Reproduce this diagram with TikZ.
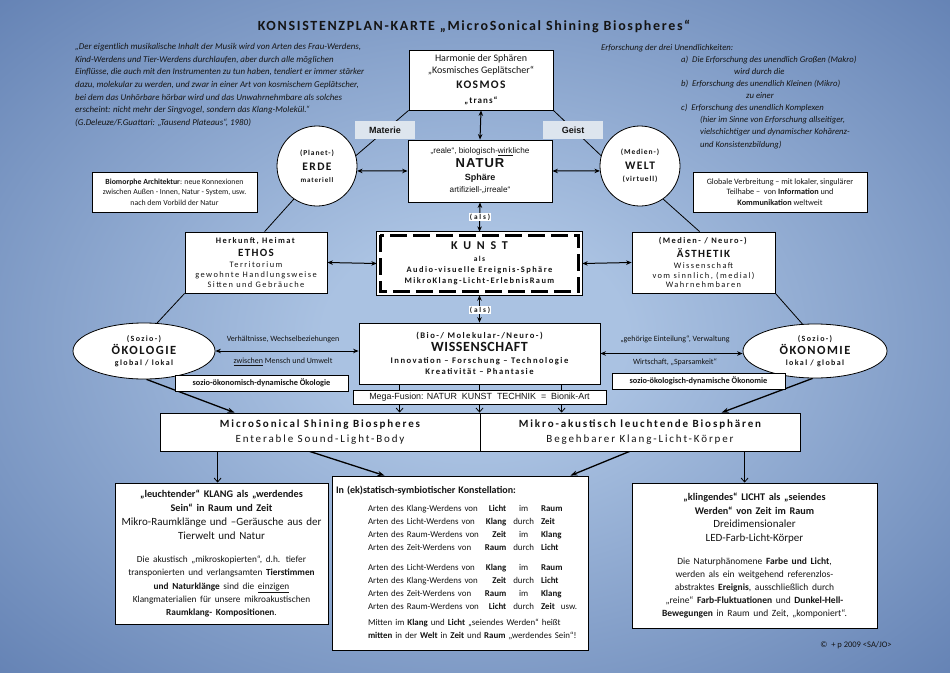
\documentclass[tikz,border=0pt]{standalone}
\usepackage{fontspec}
\setmainfont{Carlito}
\newfontfamily\arialf{Liberation Sans}
\newfontfamily\lsfontn[LetterSpace=4]{Carlito}
\newfontfamily\lsfont[LetterSpace=12]{Carlito}
\newfontfamily\lsfontm[LetterSpace=17]{Carlito}
\newfontfamily\lsfontw[LetterSpace=25]{Carlito}
\newfontfamily\lsarial[LetterSpace=8]{Liberation Sans}
\usetikzlibrary{arrows.meta,shapes.geometric,calc}
\definecolor{bglight}{RGB}{170,194,226}
\definecolor{bgdark}{RGB}{100,130,180}
\definecolor{labfill}{RGB}{221,229,238}
\definecolor{ink}{RGB}{20,20,20}
\pgfdeclareradialshading{bgsh}{\pgfpoint{0bp}{0bp}}{color(0bp)=(bglight); color(8bp)=(bglight); color(36bp)=(bgdark); color(60bp)=(bgdark)}
\pgfdeclarelayer{bglayer}
\pgfdeclarelayer{linelayer}
\pgfsetlayers{bglayer,linelayer,main}
\newcommand\fsz[2]{\fontsize{#1}{#2}\selectfont}
\begin{document}
\begin{tikzpicture}[x=1pt,y=-1pt,
  every node/.style={text=ink},
  box/.style={draw=black, line width=0.8pt, fill=white, inner sep=1pt, align=center},
  lab/.style={fill=labfill, minimum width=60pt, minimum height=18pt, inner sep=0pt, font=\arialf\bfseries\fsz{9}{10}},
  circ/.style={circle, draw=black, fill=white, line width=0.8pt, minimum size=80pt, inner sep=0pt, align=center},
  ell/.style={ellipse, draw=black, fill=white, line width=0.8pt, inner sep=0pt, align=center},
  alsl/.style={fill=white, inner sep=1.2pt, font=\lsfontw\bfseries\fsz{7.3}{8}},
  con/.style={line width=0.8pt},
  dbl/.style={{Stealth[length=5.5pt,width=4.5pt]}-{Stealth[length=5.5pt,width=4.5pt]}, line width=1pt},
  farr/.style={-{Stealth[length=7pt,width=5pt]}, line width=1.3pt},
  oarr/.style={-{Straight Barb[length=4pt,width=7pt]}, line width=0.8pt},
  elab/.style={font=\fsz{8}{10}}
]
\useasboundingbox (0,0) rectangle (950,672);
\begin{pgfonlayer}{bglayer}
\shade[shading=bgsh] (0,0) rectangle (950,672);
\end{pgfonlayer}

% title and texts
\node[font=\lsfont\bfseries\fsz{14}{16}] (title) at (474,27) {KONSISTENZPLAN-KARTE „MicroSonical Shining Biospheres“};

\node[anchor=north west, align=left, inner sep=0pt, font=\itshape\fsz{8.9}{12.7}] (quote) at (75,43) {„Der eigentlich musikalische Inhalt der Musik wird von Arten des Frau-Werdens,\\Kind-Werdens und Tier-Werdens durchlaufen, aber durch alle möglichen\\Einflüsse, die auch mit den Instrumenten zu tun haben, tendiert er immer stärker\\dazu, molekular zu werden, und zwar in einer Art von kosmischem Geplätscher,\\bei dem das Unhörbare hörbar wird und das Unwahrnehmbare als solches\\erscheint: nicht mehr der Singvogel, sondern das Klang-Molekül.“\\(G.Deleuze/F.Guattari: „Tausend Plateaus“, 1980)};

\node[anchor=north west, align=left, inner sep=0pt, font=\itshape\fsz{8.7}{12.1}] (research) at (601,44) {Erforschung der drei Unendlichkeiten:\\\hspace*{80pt}a)\ \ Die Erforschung des unendlich Großen (Makro)\\\hspace*{133pt}wird durch die\\\hspace*{80pt}b)\ \ Erforschung des unendlich Kleinen (Mikro)\\\hspace*{145pt}zu einer\\\hspace*{80pt}c)\ \ Erforschung des unendlich Komplexen\\\hspace*{99pt}(hier im Sinne von Erforschung allseitiger,\\\hspace*{99pt}vielschichtiger und dynamischer Kohärenz-\\\hspace*{99pt}und Konsistenzbildung)};

% top row
\node[box, minimum width=144pt, minimum height=60pt, font=\fsz{10}{12}] (kosmos) at (481,80) {Harmonie der Sphären\\„Kosmisches Geplätscher“\\[3pt]{\lsfont\bfseries\fsz{11.5}{14}KOSMOS}\\[3pt]{\lsfont\bfseries\fsz{9}{11}„trans“}};
\node[lab] (materie) at (385,130) {Materie};
\node[lab] (geist) at (573,130) {Geist};

\node[box, minimum width=144pt, minimum height=62pt, font=\arialf\fsz{8.2}{11}] (natur) at (480,171) {„reale“, biologisch-\underline{wirk}liche\\[3pt]{\lsarial\bfseries\fsz{13}{15}NATUR}\\[2pt]{\bfseries\fsz{9}{11}Sphäre}\\[1pt]artifiziell-„irreale“};

\node[circ, font=\fsz{7.5}{12}] (erde) at (317,166) {{\lsfont\bfseries(Planet-)}\\[3pt]{\lsfont\bfseries\fsz{11.5}{13}ERDE}\\{\lsfont\bfseries\fsz{7}{9}materiell}};
\node[circ, font=\fsz{7.5}{12}] (welt) at (640,166) {{\lsfont\bfseries(Medien-)}\\[3pt]{\lsfont\bfseries\fsz{11.5}{13}WELT}\\{\lsfont\bfseries\fsz{7.5}{9}(virtuell)}};

\node[box, minimum width=165pt, minimum height=40pt, font=\fsz{7.8}{10.3}] (biom) at (174.5,192) {\textbf{Biomorphe Architektur}: neue Konnexionen\\zwischen Außen - Innen, Natur - System, usw.\\nach dem Vorbild der Natur};
\node[box, minimum width=174pt, minimum height=40pt, font=\fsz{8.2}{10.6}] (glob) at (780,192) {Globale Verbreitung – mit lokaler, singulärer\\Teilhabe –\ \ von \textbf{Information} und\\\textbf{Kommunikation} weltweit};

% Kunst row
\node[fill=white, minimum width=205pt, minimum height=63pt, inner sep=0pt, align=center, font=\lsfontm\bfseries\fsz{8.4}{11}] (kunst) at (479.5,263.5) {{\lsfontw\fsz{12}{14}K U N S T}\\[1pt]{\fsz{7.5}{9}als}\\Audio-visuelle Ereignis-Sphäre\\MikroKlang-Licht-ErlebnisRaum};
\draw[line width=0.7pt] (kunst.north west) rectangle (kunst.south east);
\draw[line width=2.6pt, dash pattern=on 17pt off 6pt] ($(kunst.north west)+(3.5,3.5)$) rectangle ($(kunst.south east)+(-3.5,-3.5)$);

\node[box, minimum width=142pt, minimum height=61pt, font=\lsfontm\fsz{8.4}{9.8}] (ethos) at (256,262.5) {\textbf{Herkunft, Heimat}\\[3pt]{\lsfont\bfseries\fsz{11}{12}ETHOS}\\[1pt]Territorium\\gewohnte Handlungsweise\\Sitten und Gebräuche};
\node[box, minimum width=143pt, minimum height=61pt, font=\lsfontm\fsz{8.4}{9.8}] (aesth) at (703.5,262.5) {\textbf{(Medien- / Neuro-)}\\[3pt]{\lsfont\bfseries\fsz{11}{12}ÄSTHETIK}\\[1pt]Wissenschaft\\vom sinnlich, (medial)\\Wahrnehmbaren};

\node[alsl] (als1) at (480,217) {(als)};
\node[alsl] (als2) at (480,310) {(als)};

% Wissenschaft row
\node[ell, minimum width=142pt, minimum height=56pt, font=\lsfontm\bfseries\fsz{8}{11}] (oeko) at (144,351) {(Sozio-)\\[1pt]{\lsfont\fsz{12.5}{14}ÖKOLOGIE}\\global / lokal};
\node[ell, minimum width=144pt, minimum height=54pt, font=\lsfontm\bfseries\fsz{8}{11}] (oekon) at (815,351) {(Sozio-)\\[1pt]{\lsfont\fsz{12.5}{14}ÖKONOMIE}\\lokal / global};

\node[box, minimum width=241pt, minimum height=61pt, font=\lsfontm\bfseries\fsz{8.6}{11}] (wiss) at (479.5,353.5) {(Bio-/ Molekular-/Neuro-)\\[2pt]{\lsfontn\fsz{14}{15}WISSENSCHAFT}\\[1pt]Innovation – Forschung – Technologie\\Kreativität – Phantasie};

\node[elab] (lv1) at (283,339) {Verhältnisse, Wechselbeziehungen};
\node[elab] (lv2) at (283,362) {\underline{zwischen} Mensch und Umwelt};
\node[elab] (rv1) at (675,339) {„gehörige Einteilung“, Verwaltung};
\node[elab] (rv2) at (675,362) {Wirtschaft, „Sparsamkeit“};

\node[box, minimum width=173pt, minimum height=16pt, font=\bfseries\fsz{8.3}{9}] (soz1) at (261.5,383) {sozio-ökonomisch-dynamische Ökologie};
\node[box, minimum width=173pt, minimum height=16pt, font=\bfseries\fsz{8.3}{9}] (soz2) at (698.5,381) {sozio-ökologisch-dynamische Ökonomie};

\node[box, minimum width=253pt, minimum height=14pt, font=\arialf\fsz{8.9}{9}] (mega) at (479.5,397) {Mega-Fusion: NATUR\ \ KUNST\ \ TECHNIK\ \ =\ \ Bionik-Art};

% Biospheres boxes
\node[box, minimum width=320pt, minimum height=38pt, font=\lsfontm\fsz{11}{15}] (ms) at (320,432) {{\bfseries MicroSonical Shining Biospheres}\\Enterable Sound-Light-Body};
\node[box, minimum width=320pt, minimum height=38pt, font=\lsfontm\fsz{11}{15}] (mikro) at (640,432) {{\bfseries Mikro-akustisch leuchtende Biosphären}\\Begehbarer Klang-Licht-Körper};

% lower boxes
\node[box, minimum width=213pt, minimum height=141pt, text width=210pt, font=\fsz{11}{14}] (klang) at (221.5,553.5) {{\fsz{10.2}{14}\bfseries „leuchtender“ KLANG als „werdendes\\Sein“ in Raum und Zeit}\\Mikro-Raumklänge und –Geräusche aus der\\Tierwelt und Natur\par\vspace{10pt}\fsz{9.3}{13.2}Die akustisch „mikroskopierten“, d.h. tiefer\\transponierten und verlangsamten \textbf{Tierstimmen}\\\textbf{und Naturklänge} sind die \underline{einzigen}\\Klangmaterialien für unsere mikroakustischen\\\textbf{Raumklang- Kompositionen}.\par};

\node[box, minimum width=256pt, minimum height=174pt, text width=248pt, align=left, font=\fsz{8.9}{13}] (konst) at (460,563) {{\fsz{10}{13}\textbf{In (ek)statisch-symbiotischer Konstellation:}}\par\vspace{6pt}\hspace*{32pt}\begin{tabular}{@{}l@{\hspace{6pt}}r@{\hspace{7pt}}c@{\hspace{7pt}}l@{}}
Arten des Klang-Werdens von & \textbf{Licht} & im & \textbf{Raum}\\
Arten des Licht-Werdens von & \textbf{Klang} & durch & \textbf{Zeit}\\
Arten des Raum-Werdens von & \textbf{Zeit} & im & \textbf{Klang}\\
Arten des Zeit-Werdens von & \textbf{Raum} & durch & \textbf{Licht}\\[7pt]
Arten des Licht-Werdens von & \textbf{Klang} & im & \textbf{Raum}\\
Arten des Klang-Werdens von & \textbf{Zeit} & durch & \textbf{Licht}\\
Arten des Zeit-Werdens von & \textbf{Raum} & im & \textbf{Klang}\\
Arten des Raum-Werdens von & \textbf{Licht} & durch & \textbf{Zeit}\ \ usw.
\end{tabular}\par\vspace{5pt}\hspace*{32pt}Mitten im \textbf{Klang} und \textbf{Licht} „seiendes Werden“ heißt\par\hspace*{32pt}\mbox{\textbf{mitten} in der \textbf{Welt} in \textbf{Zeit} und \textbf{Raum} „werdendes Sein“!}\par};

\node[box, minimum width=245pt, minimum height=145pt, text width=242pt, font=\fsz{11}{13.7}] (licht) at (754.5,555.5) {{\fsz{10.2}{13.7}\bfseries „klingendes“ LICHT als „seiendes\\Werden“ von Zeit im Raum}\\Dreidimensionaler\\LED-Farb-Licht-Körper\par\vspace{10pt}\fsz{9.5}{13}Die Naturphänomene \textbf{Farbe und Licht},\\werden als ein weitgehend referenzlos-\\abstraktes \textbf{Ereignis}, ausschließlich durch\\„reine“ \textbf{Farb-Fluktuationen} und \textbf{Dunkel-Hell-}\\\textbf{Bewegungen} in Raum und Zeit, „komponiert“.\par};

\node[font=\fsz{8.5}{10}] (copy) at (856,645) {©\ \ + p 2009 <SA/JO>};

% connectors
\begin{pgfonlayer}{linelayer}
\draw[con] (kosmos.south west) -- (erde.15);
\draw[con] (kosmos.south east) -- (welt.165);
\draw[con] (erde.235) -- ($(ethos.north west)+(80,0)$);
\draw[con] (welt.-55) -- ($(aesth.north west)+(68,0)$);
\draw[con] (ethos.south west) -- (oeko.65);
\draw[con] (aesth.south east) -- (oekon.115);
\draw[farr] (oeko.-85) -- ($(ms.north west)+(75,0)$);
\draw[farr] (oekon.-95) -- ($(mikro.north west)+(242,0)$);
\draw[dbl] (kosmos.south) -- (natur.north);
\draw[dbl] (natur.west) -- (erde.-7);
\draw[dbl] (natur.east) -- (welt.187);
\draw[dbl] (natur.south) -- (kunst.north);
\draw[dbl] (ethos.east) -- (kunst.west);
\draw[dbl] (kunst.east) -- (aesth.west);
\draw[dbl] (kunst.south) -- (wiss.north);
\draw[dbl] (oeko.east) -- (oeko.east -| wiss.west);
\draw[dbl] (wiss.east) -- (wiss.east -| oekon.west);
\draw[oarr] ($(wiss.south west)+(41,0)$) -- ($(ms.north west)+(240,0)$);
\draw[oarr] (wiss.south) -- (wiss.south |- ms.north);
\draw[oarr] ($(wiss.south west)+(203,0)$) -- ($(mikro.north west)+(82,0)$);
\draw[oarr] ($(ms.south west)+(58,0)$) -- ($(klang.north west)+(103,0)$);
\draw[farr] ($(ms.south west)+(150,0)$) -- ($(konst.north west)+(53,0)$);
\draw[farr] ($(mikro.south west)+(150,0)$) -- ($(konst.north east)+(-18,0)$);
\draw[oarr] ($(mikro.south west)+(265,0)$) -- ($(licht.north west)+(113,0)$);
\end{pgfonlayer}
\end{tikzpicture}
\end{document}
